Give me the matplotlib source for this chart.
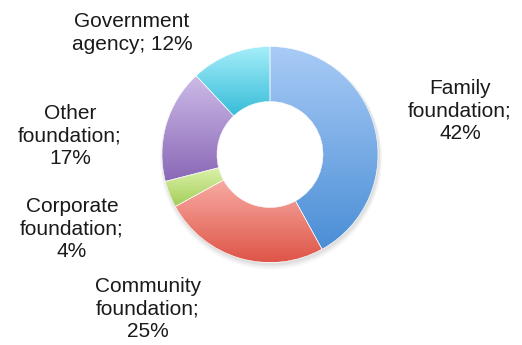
import numpy as np
import matplotlib.pyplot as plt
from matplotlib.colors import LinearSegmentedColormap

# Funding source shares (clockwise from 12 o'clock)
categories = ["Family foundation", "Community foundation", "Corporate foundation",
              "Other foundation", "Government agency"]
shares = [42, 25, 4, 17, 12]
label_text = ["Family\nfoundation;\n42%", "Community\nfoundation;\n25%",
              "Corporate\nfoundation;\n4%", "Other\nfoundation;\n17%",
              "Government\nagency; 12%"]

# top / bottom colours of the vertical gradient in each wedge
grad_top = ["#a9cbf6", "#f8aca4", "#dcf2a8", "#cdbbe8", "#a6eefa"]
grad_bottom = ["#4a8ed6", "#de5548", "#a2cc58", "#8a68b6", "#36bcd8"]

# label anchors (pixel coords, y measured from bottom)
label_pos = [(460, 234), (148, 36), (72, 116), (70, 209), (132, 312)]

W, H = 522, 345
fig = plt.figure(figsize=(W / 100, H / 100), dpi=100)
ax = fig.add_axes([0, 0, 1, 1])

cx, cy, R, ring = 270, 190.5, 108, 55

# soft drop shadow under the ring
for k, a in enumerate([0.05, 0.04, 0.03]):
    ax.add_patch(plt.Circle((cx + 1, cy - 2 - k), R + 1 + k, color="black", alpha=a, lw=0))
ax.add_patch(plt.Circle((cx, cy), R - ring, color="white", lw=0, zorder=1))

wedges, _ = ax.pie(shares, center=(cx, cy), radius=R, startangle=90, counterclock=False,
                   wedgeprops=dict(width=ring, edgecolor="white", linewidth=0.4),
                   frame=True)
ax.set_xlim(0, W)
ax.set_ylim(0, H)
ax.set_aspect("equal")
ax.axis("off")

grad = np.linspace(0, 1, 256).reshape(-1, 1)
for w, top, bot in zip(wedges, grad_top, grad_bottom):
    w.set_facecolor("none")
    w.set_zorder(3)
    bb = w.get_path().get_extents(w.get_transform() - ax.transData)
    cmap = LinearSegmentedColormap.from_list("g", [bot, top])
    im = ax.imshow(grad, cmap=cmap, origin="lower", aspect="auto",
                   extent=[bb.x0, bb.x1, bb.y0, bb.y1], zorder=2)
    im.set_clip_path(w)

for txt, (x, y) in zip(label_text, label_pos):
    ax.text(x, y, txt, ha="center", va="center", fontsize=15,
            family="Liberation Sans", color="#1a1a1a", linespacing=1.26)

fig.savefig("out.png", dpi=100)
